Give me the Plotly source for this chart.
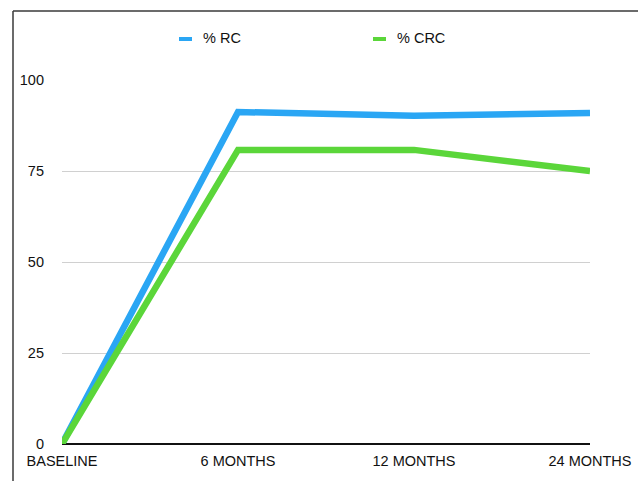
import plotly.graph_objects as go

# Time points and response rates (%)
timepoints = ["BASELINE", "6 MONTHS", "12 MONTHS", "24 MONTHS"]
rc_pct = [0, 91.2, 90.2, 90.9]
crc_pct = [0, 80.8, 80.8, 75.0]
y_ticks = [0, 25, 50, 75, 100]

series = [
    ("% RC", rc_pct, "#2aa6f4"),
    ("% CRC", crc_pct, "#5bd63a"),
]

W, H = 638, 481
ML, MR, MT, MB = 62, 48, 80, 37
plot_w = W - ML - MR
plot_h = H - MT - MB

fig = go.Figure()
for name, vals, color in series:
    fig.add_trace(go.Scatter(
        x=timepoints, y=vals, name=name, mode="lines",
        line=dict(color=color, width=6.5),
        showlegend=False,
        cliponaxis=False,
    ))

def px_to_paper_x(px):
    return (px - ML) / plot_w

def px_to_paper_y(py):
    return (H - MB - py) / plot_h

shapes = []
annotations = []

# Frame lines along the top and left edges
shapes.append(dict(type="line", xref="paper", yref="paper",
                   x0=px_to_paper_x(13), x1=px_to_paper_x(W + 5),
                   y0=px_to_paper_y(11), y1=px_to_paper_y(11),
                   line=dict(color="#3a3a3a", width=1.5)))
shapes.append(dict(type="line", xref="paper", yref="paper",
                   x0=px_to_paper_x(13), x1=px_to_paper_x(13),
                   y0=px_to_paper_y(11), y1=px_to_paper_y(H + 5),
                   line=dict(color="#3a3a3a", width=1.5)))

# Legend drawn as short swatches with labels
legend_x = [179, 373]
legend_y = 38
for (name, vals, color), lx in zip(series, legend_x):
    shapes.append(dict(type="line", xref="paper", yref="paper",
                       x0=px_to_paper_x(lx), x1=px_to_paper_x(lx + 13),
                       y0=px_to_paper_y(legend_y + 1), y1=px_to_paper_y(legend_y + 1),
                       line=dict(color=color, width=4)))
    annotations.append(dict(xref="paper", yref="paper",
                            x=px_to_paper_x(lx + 22), y=px_to_paper_y(legend_y),
                            text=name, showarrow=False,
                            xanchor="left", yanchor="middle",
                            font=dict(family="Liberation Sans, Arial", size=14.5, color="#111")))

fig.update_layout(
    width=W, height=H,
    margin=dict(l=ML, r=MR, t=MT, b=MB, autoexpand=False),
    paper_bgcolor="white", plot_bgcolor="white",
    font=dict(family="Liberation Sans, Arial", size=14.5, color="#111"),
    shapes=shapes, annotations=annotations,
    showlegend=False,
)
fig.update_xaxes(
    type="category", range=[0, len(timepoints) - 1],
    showgrid=False, zeroline=False, showline=False, automargin=False,
    ticks="", ticklabelstandoff=6,
    tickfont=dict(size=14.5, color="#111"),
)
fig.update_yaxes(
    range=[0, 100], tickvals=y_ticks, automargin=False,
    showgrid=True, gridcolor="#d0d0d0", gridwidth=1,
    zeroline=True, zerolinecolor="#111", zerolinewidth=1.5,
    showline=False, ticks="", ticklabelstandoff=17,
    tickfont=dict(size=14.5, color="#111"),
)

fig.write_html("out.html")
